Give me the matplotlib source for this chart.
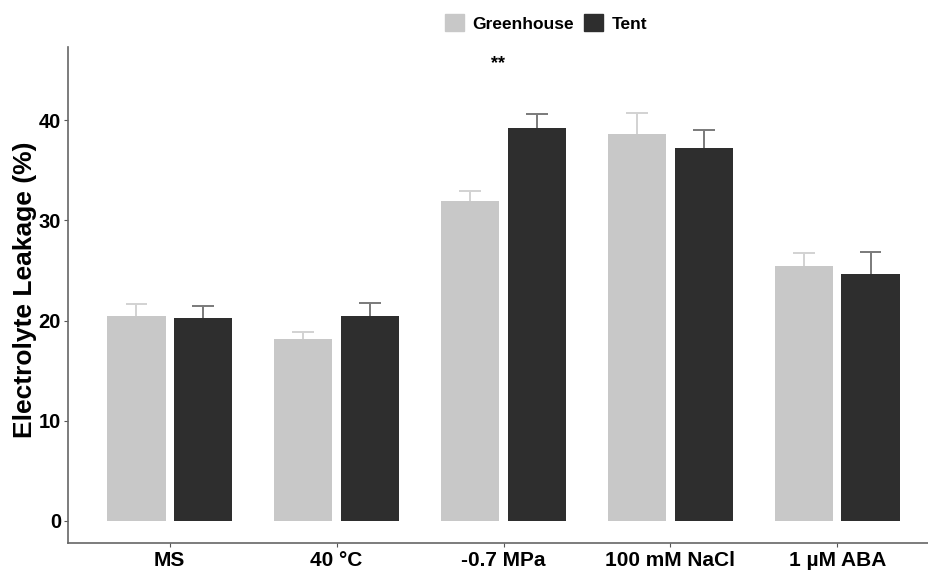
import matplotlib
matplotlib.use("Agg")
import matplotlib.pyplot as plt
import numpy as np
from matplotlib.patches import Patch

plt.rcParams['font.family'] = ['Liberation Sans', 'DejaVu Sans']
plt.rcParams['font.weight'] = 'bold'

treatments = ["MS", "40 \u00b0C", "-0.7 MPa", "100 mM NaCl", "1 \u00b5M ABA"]
greenhouse = [20.45, 18.15, 31.9, 38.6, 25.4]
greenhouse_err = [1.25, 0.7, 1.0, 2.1, 1.3]
tent = [20.25, 20.45, 39.2, 37.2, 24.6]
tent_err = [1.2, 1.3, 1.4, 1.8, 2.25]

fig = plt.figure(figsize=(9.29, 5.70), dpi=100)
ax = fig.add_axes([68 / 929, 1 - 543 / 570, 1 - 68 / 929, (543 - 47) / 570])

x = np.arange(len(treatments))
w = 0.35
off = 0.2
cap = 0.065


def upper_err(xs, ys, errs, color):
    # only the upper whisker shows above the bar
    tops = np.array(ys) + np.array(errs)
    ax.vlines(xs, ys, tops, color=color, lw=1.4, zorder=1)
    ax.hlines(tops, xs - cap, xs + cap, color=color, lw=1.4, zorder=1)


ax.bar(x - off, greenhouse, w, color="#c8c8c8", zorder=2)
ax.bar(x + off, tent, w, color="#2e2e2e", zorder=2)
upper_err(x - off, greenhouse, greenhouse_err, "#d2d2d2")
upper_err(x + off, tent, tent_err, "#7a7a7a")

ax.text(2 - 0.03, 45.6, "**", ha="center", va="center", fontsize=13, fontweight="bold")

ax.set_xlim(-0.61, 4.55)
ax.set_ylim(-2.2, 47.3)
ax.set_xticks(x)
ax.set_xticklabels(treatments, fontsize=15, fontweight="bold")
ax.set_yticks([0, 10, 20, 30, 40])
ax.tick_params(axis="y", labelsize=14.5, length=3, pad=2, color="#555555")
ax.tick_params(axis="x", length=3, pad=3, color="#555555")
ax.set_ylabel("Electrolyte Leakage (%)", fontsize=19, fontweight="bold")
ax.yaxis.set_label_coords(-0.036, 0.51)

for s in ["top", "right"]:
    ax.spines[s].set_visible(False)
for s in ["left", "bottom"]:
    ax.spines[s].set_color("#666666")
    ax.spines[s].set_linewidth(1.2)

handles = [Patch(color="#c8c8c8", label="Greenhouse"), Patch(color="#2e2e2e", label="Tent")]
fig.legend(handles=handles, loc="center", bbox_to_anchor=(546 / 929, 1 - 23 / 570), ncol=2,
           frameon=False, handlelength=1.1, handleheight=1.1,
           handletextpad=0.5, columnspacing=0.55, prop={"weight": "bold", "size": 12.5})

fig.savefig("out.png", dpi=100)
